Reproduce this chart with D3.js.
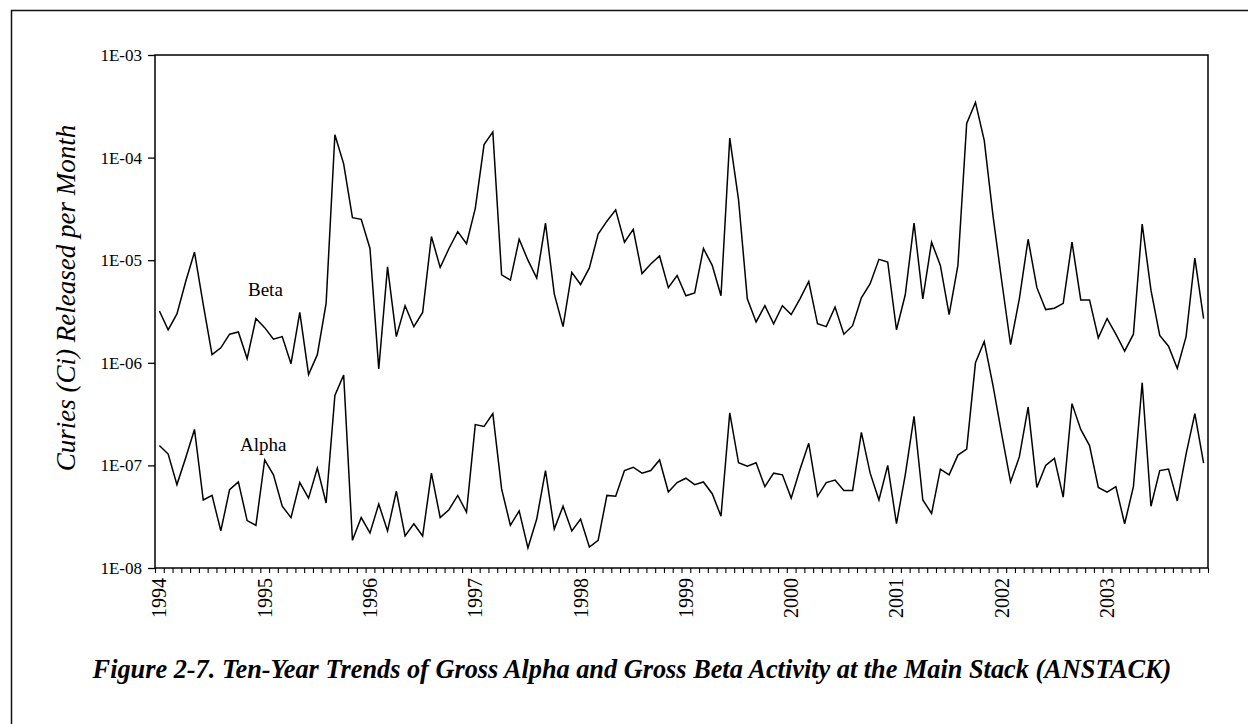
<!DOCTYPE html>
<html>
<head>
<meta charset="utf-8">
<script src="https://d3js.org/d3.v7.min.js"></script>
<style>
    body { margin: 0; background: #fff; }
    svg { display: block; }
    text { font-family: "Liberation Serif", "Times New Roman", Times, serif; fill: #000; }
</style>
</head>
<body>
<div class="vis"></div>

<script>
    // years on the axis, one category per month
    var years = ["1994", "1995", "1996", "1997", "1998", "1999", "2000", "2001", "2002", "2003"];

    // gross beta, Ci per month
    var beta = [
        3.2e-6, 2.1e-6, 3.0e-6, 6.2e-6, 1.2e-5, 3.7e-6, 1.2e-6, 1.4e-6, 1.9e-6, 2.0e-6, 1.1e-6, 2.7e-6,
        2.2e-6, 1.7e-6, 1.8e-6, 9.8e-7, 3.1e-6, 7.7e-7, 1.2e-6, 3.8e-6, 1.67e-4, 8.7e-5, 2.6e-5, 2.5e-5,
        1.3e-5, 8.7e-7, 8.6e-6, 1.8e-6, 3.6e-6, 2.25e-6, 3.1e-6, 1.7e-5, 8.5e-6, 1.3e-5, 1.9e-5, 1.45e-5,
        3.2e-5, 1.34e-4, 1.78e-4, 7.2e-6, 6.4e-6, 1.6e-5, 1.0e-5, 6.7e-6, 2.3e-5, 4.7e-6, 2.25e-6, 7.6e-6,
        5.8e-6, 8.4e-6, 1.8e-5, 2.4e-5, 3.1e-5, 1.5e-5, 2.0e-5, 7.4e-6, 9.2e-6, 1.1e-5, 5.4e-6, 7.1e-6,
        4.5e-6, 4.8e-6, 1.3e-5, 8.9e-6, 4.5e-6, 1.55e-4, 3.9e-5, 4.2e-6, 2.5e-6, 3.6e-6, 2.4e-6, 3.6e-6,
        2.95e-6, 4.2e-6, 6.2e-6, 2.4e-6, 2.25e-6, 3.5e-6, 1.9e-6, 2.3e-6, 4.3e-6, 5.9e-6, 1.02e-5, 9.6e-6,
        2.1e-6, 4.6e-6, 2.3e-5, 4.2e-6, 1.5e-5, 8.9e-6, 2.95e-6, 8.9e-6, 2.15e-4, 3.45e-4, 1.47e-4, 2.7e-5,
        6.2e-6, 1.5e-6, 4.2e-6, 1.6e-5, 5.4e-6, 3.3e-6, 3.4e-6, 3.8e-6, 1.5e-5, 4.1e-6, 4.1e-6, 1.75e-6,
        2.7e-6, 1.9e-6, 1.3e-6, 1.9e-6, 2.25e-5, 5.1e-6, 1.85e-6, 1.45e-6, 8.8e-7, 1.8e-6, 1.05e-5, 2.7e-6
    ];

    // gross alpha, Ci per month
    var alpha = [
        1.56e-7, 1.29e-7, 6.5e-8, 1.19e-7, 2.24e-7, 4.6e-8, 5.1e-8, 2.3e-8, 5.8e-8, 6.9e-8, 2.9e-8, 2.6e-8,
        1.13e-7, 8.1e-8, 4.0e-8, 3.1e-8, 6.8e-8, 4.8e-8, 9.4e-8, 4.3e-8, 4.8e-7, 7.6e-7, 1.86e-8, 3.1e-8,
        2.2e-8, 4.2e-8, 2.3e-8, 5.6e-8, 2.05e-8, 2.7e-8, 2.05e-8, 8.4e-8, 3.1e-8, 3.7e-8, 5.1e-8, 3.5e-8,
        2.5e-7, 2.4e-7, 3.2e-7, 5.9e-8, 2.6e-8, 3.6e-8, 1.57e-8, 3.0e-8, 8.9e-8, 2.4e-8, 4.0e-8, 2.3e-8,
        3.0e-8, 1.6e-8, 1.86e-8, 5.1e-8, 5.0e-8, 8.9e-8, 9.6e-8, 8.4e-8, 8.9e-8, 1.13e-7, 5.5e-8, 6.8e-8,
        7.5e-8, 6.5e-8, 6.9e-8, 5.3e-8, 3.2e-8, 3.25e-7, 1.06e-7, 9.8e-8, 1.06e-7, 6.2e-8, 8.4e-8, 8.1e-8,
        4.8e-8, 9.1e-8, 1.64e-7, 5.0e-8, 6.8e-8, 7.2e-8, 5.7e-8, 5.7e-8, 2.1e-7, 8.4e-8, 4.6e-8, 1.0e-7,
        2.7e-8, 8.1e-8, 3.0e-7, 4.6e-8, 3.4e-8, 9.2e-8, 8.1e-8, 1.26e-7, 1.44e-7, 1.0e-6, 1.61e-6, 6.0e-7,
        2.0e-7, 6.9e-8, 1.21e-7, 3.7e-7, 6.1e-8, 1.0e-7, 1.17e-7, 4.9e-8, 4.0e-7, 2.24e-7, 1.56e-7, 6.1e-8,
        5.5e-8, 6.2e-8, 2.7e-8, 6.2e-8, 6.4e-7, 4.0e-8, 8.9e-8, 9.2e-8, 4.5e-8, 1.29e-7, 3.2e-7, 1.05e-7
    ];

    var yTicks = [1e-8, 1e-7, 1e-6, 1e-5, 1e-4, 1e-3];
    var yTickLabels = ["1E-08", "1E-07", "1E-06", "1E-05", "1E-04", "1E-03"];

    // series labels: month index and value where the word sits
    var seriesLabels = [
        { text: "Beta", month: 10.1, value: 4.5e-6 },
        { text: "Alpha", month: 9.2, value: 1.37e-7 }
    ];

    var categories = [];
    years.forEach(function (yr) {
        for (var m = 1; m <= 12; m++) categories.push(yr + "-" + m);
    });

    var width = 1248, height = 724;
    var plot = { left: 155, right: 1208, top: 55, bottom: 568 };

    var svg = d3.select(".vis")
        .append("svg")
        .attr("width", width)
        .attr("height", height);

    // page frame
    svg.append("rect")
        .attr("x", 11.5)
        .attr("y", 10.5)
        .attr("width", 1400)
        .attr("height", 900)
        .attr("fill", "none")
        .attr("stroke", "#111")
        .attr("stroke-width", 1.5);

    var x = d3.scaleBand()
        .domain(categories)
        .range([plot.left, plot.right]);

    var xEdge = d3.scaleLinear()
        .domain([0, categories.length])
        .range([plot.left, plot.right]);

    var y = d3.scaleLog()
        .domain([1e-8, 1e-3])
        .range([plot.bottom, plot.top]);

    var cx = function (i) { return x(categories[i]) + x.bandwidth() / 2; };
    var labelFor = d3.scaleOrdinal(yTicks, yTickLabels);

    // y axis
    svg.append("g")
        .attr("transform", `translate(${plot.left},0)`)
        .call(d3.axisLeft(y)
            .tickValues(yTicks)
            .tickFormat(d => labelFor(d))
            .tickSize(7)
            .tickPadding(6))
        .call(g => g.select(".domain").remove())
        .call(g => g.selectAll("line").attr("stroke", "#000").attr("stroke-width", 1.3))
        .call(g => g.selectAll("text")
            .attr("font-size", "17px")
            .attr("font-family", "'Liberation Serif', 'Times New Roman', serif"));

    // month tick marks on the category boundaries
    svg.append("g")
        .attr("transform", `translate(0,${plot.bottom})`)
        .call(d3.axisBottom(xEdge)
            .tickValues(d3.range(categories.length + 1))
            .tickFormat("")
            .tickSize(5))
        .call(g => g.select(".domain").remove())
        .call(g => g.selectAll("line").attr("stroke", "#000").attr("stroke-width", 1.1));

    // year labels, rotated
    svg.append("g")
        .attr("transform", `translate(0,${plot.bottom})`)
        .call(d3.axisBottom(x)
            .tickValues(years.map(yr => yr + "-1"))
            .tickFormat(d => d.split("-")[0])
            .tickSize(0))
        .call(g => g.select(".domain").remove())
        .call(g => g.selectAll("text")
            .attr("font-size", "20px")
            .attr("font-family", "'Liberation Serif', 'Times New Roman', serif")
            .attr("transform", "rotate(-90)")
            .attr("x", -10)
            .attr("y", 0)
            .attr("dy", "0.35em")
            .attr("text-anchor", "end"));

    // plot frame
    svg.append("rect")
        .attr("x", plot.left)
        .attr("y", plot.top)
        .attr("width", plot.right - plot.left)
        .attr("height", plot.bottom - plot.top)
        .attr("fill", "none")
        .attr("stroke", "#000")
        .attr("stroke-width", 1.5);

    var line = d3.line()
        .x((d, i) => cx(i))
        .y(d => y(d));

    [beta, alpha].forEach(function (series) {
        svg.append("path")
            .datum(series)
            .attr("fill", "none")
            .attr("stroke", "#000")
            .attr("stroke-width", 1.5)
            .attr("stroke-linejoin", "miter")
            .attr("d", line);
    });

    svg.selectAll(".serieslabel")
        .data(seriesLabels)
        .join("text")
        .attr("class", "serieslabel")
        .attr("x", d => xEdge(d.month + 0.5))
        .attr("y", d => y(d.value))
        .attr("font-size", "19px")
        .text(d => d.text);

    // axis title
    svg.append("text")
        .attr("transform", "translate(75,298) rotate(-90)")
        .attr("text-anchor", "middle")
        .attr("font-size", "27px")
        .attr("font-style", "italic")
        .text("Curies (Ci) Released per Month");

    // figure caption, sized to span the same width as in the figure
    var caption = svg.append("text")
        .attr("x", 632)
        .attr("y", 678)
        .attr("text-anchor", "middle")
        .attr("font-size", "26px")
        .attr("font-style", "italic")
        .attr("font-weight", "bold")
        .text("Figure 2-7. Ten-Year Trends of Gross Alpha and Gross Beta Activity at the Main Stack (ANSTACK)");
    var capLen = caption.node().getComputedTextLength();
    if (capLen > 0) caption.attr("font-size", (26 * 1079 / capLen).toFixed(2) + "px");
</script>
</body>
</html>
